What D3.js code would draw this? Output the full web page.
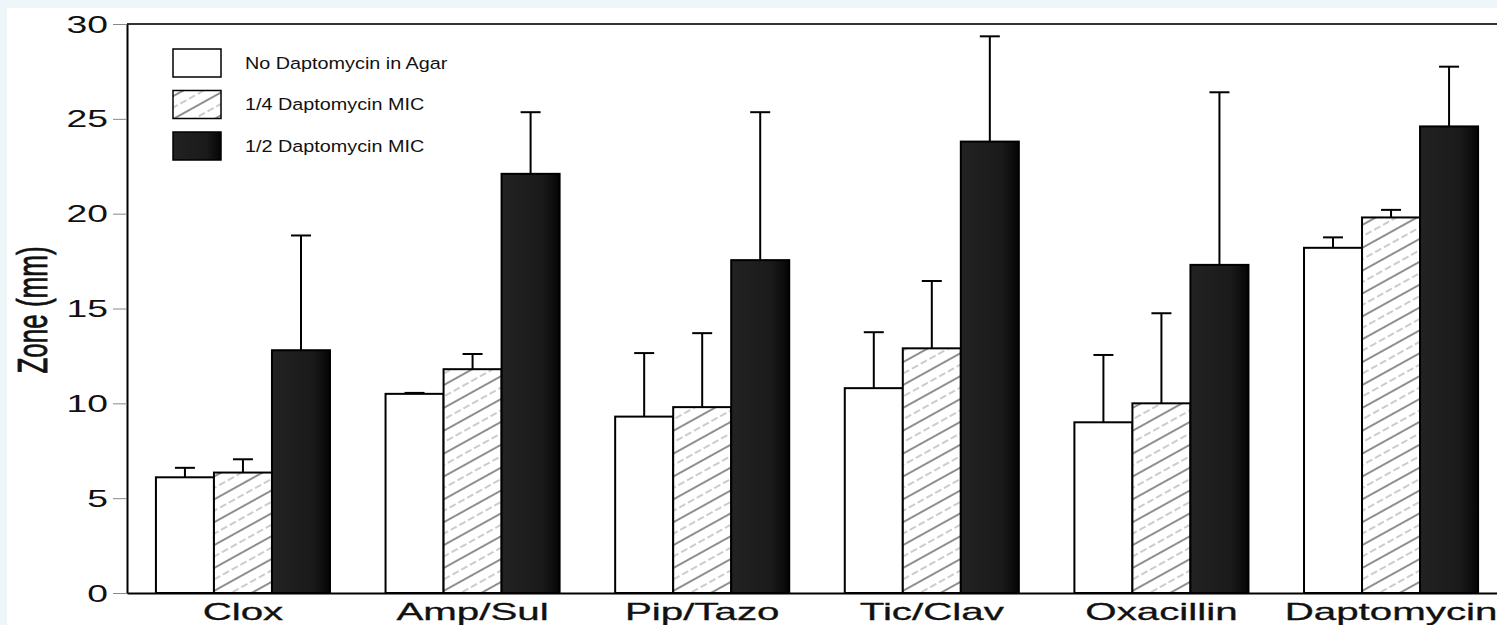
<!DOCTYPE html>
<html>
<head>
<meta charset="utf-8">
<style>
  body { margin: 0; background: #eef6f9; }
  svg { display: block; }
  text { font-family: "Liberation Sans", Arial, sans-serif; fill: #111; }
</style>
</head>
<body>
<svg width="1497" height="625"></svg>
<script src="https://d3js.org/d3.v7.min.js"></script>
<script>

// data (zone diameter, mm; error = upper SD)
var categories = ["Clox", "Amp/Sul", "Pip/Tazo", "Tic/Clav", "Oxacillin", "Daptomycin"];
var seriesNames = ["No Daptomycin in Agar", "1/4 Daptomycin MIC", "1/2 Daptomycin MIC"];

var noDapto    = [6.1, 10.5, 9.3, 10.8, 9.0, 18.2];
var noDaptoErr = [0.5, 0.05, 3.35, 2.95, 3.55, 0.55];
var quarterMic    = [6.35, 11.8, 9.8, 12.9, 10.0, 19.8];
var quarterMicErr = [0.7, 0.8, 3.9, 3.55, 4.75, 0.4];
var halfMic    = [12.8, 22.1, 17.55, 23.8, 17.3, 24.6];
var halfMicErr = [6.05, 3.25, 7.8, 5.55, 9.1, 3.15];

var yTicks = [0, 5, 10, 15, 20, 25, 30];

var values = [noDapto, quarterMic, halfMic],
    errors = [noDaptoErr, quarterMicErr, halfMicErr];

var svg = d3.select("svg"),
    width = +svg.attr("width"),
    height = +svg.attr("height");

// paper area (the scan has a light blue rim top and left)
svg.append("rect").attr("x", 7).attr("y", 8)
    .attr("width", width - 7).attr("height", height - 8).attr("fill", "#fff");

var defs = svg.append("defs");
var hatch = defs.append("pattern")
    .attr("id", "hatch")
    .attr("patternUnits", "userSpaceOnUse")
    .attr("width", 20).attr("height", 20)
    .attr("patternTransform", "rotate(-29)");
hatch.append("rect").attr("width", 20).attr("height", 20).attr("fill", "#fff");
hatch.append("line").attr("x1", 0).attr("x2", 20).attr("y1", 5).attr("y2", 5)
    .attr("stroke", "#444").attr("stroke-width", 1.2);
hatch.append("line").attr("x1", 0).attr("x2", 20).attr("y1", 15).attr("y2", 15)
    .attr("stroke", "#999").attr("stroke-width", 1).attr("stroke-dasharray", "7,3");

var dark = defs.append("linearGradient").attr("id", "dark");
dark.append("stop").attr("offset", "0%").attr("stop-color", "#222");
dark.append("stop").attr("offset", "70%").attr("stop-color", "#1a1a1a");
dark.append("stop").attr("offset", "100%").attr("stop-color", "#050505");

var fills = ["#fff", "url(#hatch)", "url(#dark)"];

var y = d3.scaleLinear().domain([0, 30]).range([593, 24]);

var x0 = d3.scaleBand()
    .domain(categories)
    .range([127, 1507])
    .paddingInner(0.242)
    .paddingOuter(0.126);

var x1 = d3.scaleBand()
    .domain(d3.range(seriesNames.length))
    .range([0, x0.bandwidth()]);

// top frame line
svg.append("line")
    .attr("x1", 127).attr("x2", width)
    .attr("y1", y(30)).attr("y2", y(30))
    .attr("stroke", "#333").attr("stroke-width", 2);

// bars
var groups = svg.append("g").selectAll("g")
    .data(categories)
    .join("g")
      .attr("transform", function(d) { return "translate(" + x0(d) + ",0)"; });

groups.selectAll("rect")
    .data(function(d, i) { return values.map(function(v, s) { return {s: s, v: v[i], e: errors[s][i]}; }); })
    .join("rect")
      .attr("x", function(d) { return x1(d.s); })
      .attr("y", function(d) { return y(d.v); })
      .attr("width", x1.bandwidth())
      .attr("height", function(d) { return y(0) - y(d.v); })
      .attr("fill", function(d) { return fills[d.s]; })
      .attr("stroke", "#000")
      .attr("stroke-width", 2);

// error bars (upper only)
var err = groups.selectAll("g.err")
    .data(function(d, i) { return values.map(function(v, s) { return {s: s, v: v[i], e: errors[s][i]}; }); })
    .join("g")
      .attr("class", "err")
      .attr("stroke", "#000")
      .attr("stroke-width", 2);

err.append("line")
    .attr("x1", function(d) { return x1(d.s) + x1.bandwidth() / 2; })
    .attr("x2", function(d) { return x1(d.s) + x1.bandwidth() / 2; })
    .attr("y1", function(d) { return y(d.v); })
    .attr("y2", function(d) { return y(d.v + d.e); });

err.append("line")
    .attr("x1", function(d) { return x1(d.s) + x1.bandwidth() / 2 - 10; })
    .attr("x2", function(d) { return x1(d.s) + x1.bandwidth() / 2 + 10; })
    .attr("y1", function(d) { return y(d.v + d.e); })
    .attr("y2", function(d) { return y(d.v + d.e); });

// y axis
var yAxis = svg.append("g")
    .attr("transform", "translate(127,0)")
    .call(d3.axisLeft(y).tickValues(yTicks).tickSize(14).tickSizeOuter(0));
yAxis.select(".domain").attr("stroke", "#000").attr("stroke-width", 2);
yAxis.selectAll(".tick line").attr("stroke", "#888").attr("stroke-width", 1);
yAxis.selectAll(".tick text")
    .attr("font-size", 23)
    .attr("font-family", "Liberation Sans, Arial, sans-serif")
    .attr("fill", "#111")
    .attr("x", -19 / 1.62)
    .attr("dy", "0.35em")
    .attr("transform", "scale(1.62,1)");

// x axis
var xAxis = svg.append("g")
    .attr("transform", "translate(0," + y(0) + ")")
    .call(d3.axisBottom(x0).tickSize(0).tickSizeOuter(0).tickPadding(10));
xAxis.select(".domain").attr("stroke", "#000").attr("stroke-width", 2);
xAxis.selectAll(".tick text")
    .attr("font-size", 24)
    .attr("font-family", "Liberation Sans, Arial, sans-serif")
    .attr("fill", "#111")
    .attr("stroke", "#111").attr("stroke-width", 0.3)
    .attr("transform", "scale(1.68,1)");

// y title
svg.append("text")
    .attr("transform", "translate(47,310) scale(1.65,1) rotate(-90)")
    .attr("text-anchor", "middle")
    .attr("font-size", 26)
    .attr("stroke", "#111").attr("stroke-width", 0.5)
    .text("Zone (mm)");

// legend
var legend = svg.append("g").selectAll("g")
    .data(seriesNames)
    .join("g")
      .attr("transform", function(d, i) { return "translate(173," + (49 + i * 41.5) + ")"; });

legend.append("rect")
    .attr("width", 48).attr("height", 28)
    .attr("fill", function(d, i) { return fills[i]; })
    .attr("stroke", "#000").attr("stroke-width", 1.5);

legend.append("text")
    .attr("transform", "translate(72,19.5) scale(1.2,1)")
    .attr("font-size", 16.5)
    .text(function(d) { return d; });

</script>
</body>
</html>
